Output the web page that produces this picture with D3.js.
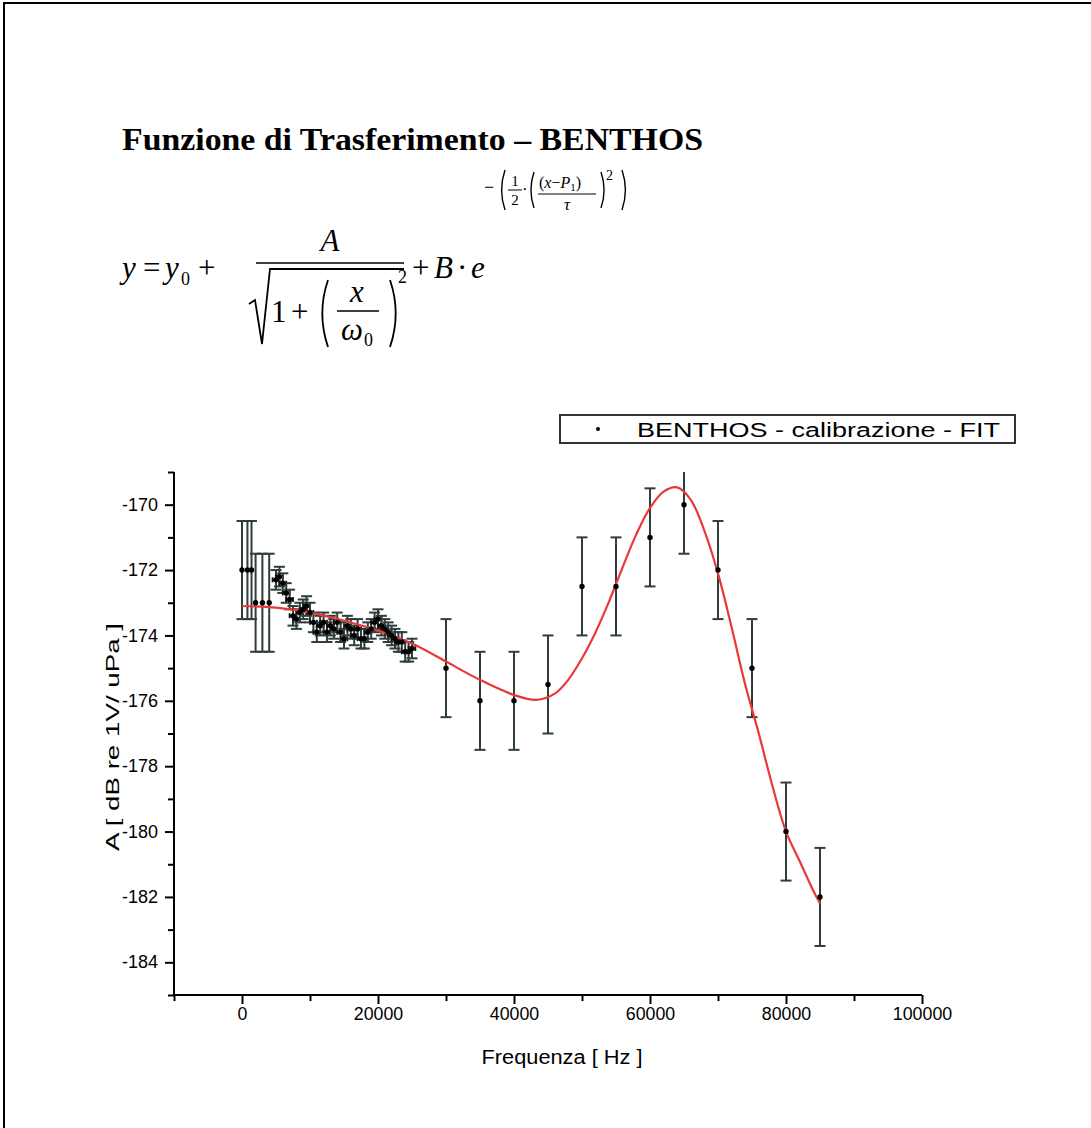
<!DOCTYPE html>
<html>
<head>
<meta charset="utf-8">
<script src="https://cdn.jsdelivr.net/npm/d3@7"></script>
<style>
  body { margin: 0; background: #fff; }
  svg text { fill: #000; }
</style>
</head>
<body>
<div id="chart"></div>
<script>
// dati
const freq = [0, 800, 1400, 2000, 3000, 4000,
  5000, 5500, 6000, 6500, 7000, 7500, 8000, 8500, 9000, 9500, 10000, 10500, 11000, 11500,
  12000, 12500, 13000, 13500, 14000, 14500, 15000, 15500, 16000, 16500, 17000, 17500,
  18000, 18500, 19000, 19500, 20000, 20500, 21000, 21500, 22000, 22500, 23000, 23500,
  24000, 24500, 25000,
  30000, 35000, 40000, 45000, 50000, 55000, 60000, 65000, 70000, 75000, 80000, 85000];
const ampl = [-172, -172, -172, -173, -173, -173,
  -172.3, -172.2, -172.4, -172.7, -172.9, -173.4, -173.5, -173.3, -173.2, -173.1, -173.3, -173.6, -173.9, -173.7,
  -173.6, -173.9, -173.7, -173.8, -173.6, -173.9, -174.1, -173.7, -173.8, -174.0, -173.8, -174.1,
  -174.1, -173.9, -173.8, -173.6, -173.5, -173.7, -173.8, -173.9, -174.0, -174.1, -174.2, -174.2,
  -174.5, -174.5, -174.4,
  -175, -176, -176, -175.5, -172.5, -172.5, -171, -170, -172, -175, -180, -182];
const errY = [1.5, 1.5, 1.5, 1.5, 1.5, 1.5,
  0.3, 0.3, 0.3, 0.3, 0.3, 0.3, 0.3, 0.3, 0.3, 0.3, 0.3, 0.3, 0.3, 0.3,
  0.3, 0.3, 0.3, 0.3, 0.3, 0.3, 0.3, 0.3, 0.3, 0.3, 0.3, 0.3,
  0.3, 0.3, 0.3, 0.3, 0.3, 0.3, 0.3, 0.3, 0.3, 0.3, 0.3, 0.3,
  0.3, 0.3, 0.3,
  1.5, 1.5, 1.5, 1.5, 1.5, 1.5, 1.5, 1.5, 1.5, 1.5, 1.5, 1.5];
const errX = [0, 0, 0, 0, 0, 0,
  500, 500, 500, 500, 500, 500, 500, 500, 500, 500, 500, 500, 500, 500,
  500, 500, 500, 500, 500, 500, 500, 500, 500, 500, 500, 500,
  500, 500, 500, 500, 500, 500, 500, 500, 500, 500, 500, 500,
  500, 500, 500,
  0, 0, 0, 0, 0, 0, 0, 0, 0, 0, 0, 0];

// curva del fit
const fitFreq = [0, 5000, 10000, 15000, 20000, 25000, 30000, 35000, 40000, 43300, 46000, 48000,
  50000, 52000, 54000, 56000, 58000, 60000, 62000, 64000, 66000, 68000, 70000, 72000,
  74000, 76000, 78000, 80000, 82000, 84000, 85000];
const fitAmpl = [-173.1, -173.15, -173.3, -173.55, -173.85, -174.25, -174.8, -175.36, -175.82, -175.97, -175.78, -175.35,
  -174.7, -173.9, -172.95, -171.9, -170.9, -170.1, -169.6, -169.47, -169.85, -170.8, -172.1, -173.75,
  -175.5, -177.0, -178.6, -180.0, -180.9, -181.8, -182.2];

const xTicks = [0, 20000, 40000, 60000, 80000, 100000];
const yTicks = [-170, -172, -174, -176, -178, -180, -182, -184];

const W = 1091, H = 1128;
const svg = d3.select("#chart").append("svg")
    .attr("width", W)
    .attr("height", H);

// cornice della pagina
svg.append("rect")
    .attr("x", 4).attr("y", 3)
    .attr("width", 1200).attr("height", 1200)
    .attr("fill", "none")
    .attr("stroke", "#000")
    .attr("stroke-width", 2);

// titolo
svg.append("text")
    .attr("x", 122).attr("y", 150)
    .attr("font-family", "Liberation Serif")
    .attr("font-weight", "bold")
    .attr("font-size", 31)
    .attr("textLength", 581)
    .attr("lengthAdjust", "spacingAndGlyphs")
    .text("Funzione di Trasferimento – BENTHOS");

// formula
const F = svg.append("g")
    .attr("font-family", "Liberation Serif")
    .attr("fill", "#000");
function t(x, y, s, size, italic, anchor) {
    return F.append("text")
        .attr("x", x).attr("y", y)
        .attr("font-size", size)
        .attr("font-style", italic ? "italic" : "normal")
        .attr("text-anchor", anchor || "start")
        .text(s);
}
function bar(x1, x2, y, w) {
    F.append("line")
        .attr("x1", x1).attr("x2", x2).attr("y1", y).attr("y2", y)
        .attr("stroke", "#000").attr("stroke-width", w || 1.5);
}
function paren(x, y1, y2, dir, w) {
    const bulge = dir * (y2 - y1) * 0.17;
    F.append("path")
        .attr("d", `M${x},${y1} Q${x - bulge},${(y1 + y2) / 2} ${x},${y2}`)
        .attr("fill", "none").attr("stroke", "#000").attr("stroke-width", w || 1.5);
}
const yb = 278;
t(122, yb, "y", 31, true);
t(143, yb, "=", 31, false);
t(165, yb, "y", 31, true);
t(181, yb + 7, "0", 18, false);
t(198, yb, "+", 31, false);
bar(256, 404, 263);
t(330, 251, "A", 31, true, "middle");
F.append("path")
    .attr("d", "M249,304 L255,300 L262,344 L270,269 L404,269")
    .attr("fill", "none").attr("stroke", "#000").attr("stroke-width", 1.8);
t(271, 322, "1", 31, false);
t(291, 322, "+", 31, false);
paren(328, 280, 347, 1, 1.8);
paren(390, 280, 347, -1, 1.8);
t(357, 302, "x", 31, true, "middle");
bar(337, 379, 311);
t(352, 340, "ω", 31, true, "middle");
t(364, 346, "0", 18, false);
t(398, 283, "2", 18, false);
t(412, yb, "+", 31, false);
t(434, yb, "B", 31, true);
t(457, yb, "·", 31, false);
t(471, yb, "e", 31, true);
t(484, 193, "−", 18, false);
paren(505, 170, 210, 1, 1.4);
t(515, 186, "1", 15, false, "middle");
bar(508, 522, 190, 1);
t(515, 205, "2", 15, false, "middle");
t(522, 195, "·", 17, false);
paren(534, 172, 208, 1, 1.4);
F.append("text").attr("x", 539).attr("y", 188).attr("font-size", 16)
    .html('(<tspan font-style="italic">x</tspan>−<tspan font-style="italic">P</tspan><tspan font-size="11" dy="3">1</tspan><tspan dy="-3">)</tspan>');
bar(538, 596, 194, 1);
t(567, 210, "τ", 17, true, "middle");
paren(601, 172, 208, -1, 1.4);
t(606, 180, "2", 14, false);
paren(622, 170, 210, -1, 1.4);

// area del grafico
const x = d3.scaleLinear().domain([-10000, 100000]).range([174, 922]);
const y = d3.scaleLinear().domain([-185, -169]).range([995, 472]);

svg.append("clipPath").attr("id", "clip")
    .append("rect")
    .attr("x", 174).attr("y", 472)
    .attr("width", 922 - 174).attr("height", 995 - 472);

const data = freq.map((f, i) => ({ f: f, a: ampl[i], ey: errY[i], ex: errX[i] }));

const plot = svg.append("g").attr("clip-path", "url(#clip)");
const errCol = "#2f3d3b";

// barre d'errore verticali
const eb = plot.selectAll(".eb").data(data).enter().append("g").attr("class", "eb");
eb.append("line")
    .attr("x1", d => x(d.f)).attr("x2", d => x(d.f))
    .attr("y1", d => y(d.a + d.ey)).attr("y2", d => y(d.a - d.ey))
    .attr("stroke", errCol).attr("stroke-width", 2);
eb.filter(d => y(d.a + d.ey) > 472).append("line")
    .attr("x1", d => x(d.f) - 5.5).attr("x2", d => x(d.f) + 5.5)
    .attr("y1", d => y(d.a + d.ey)).attr("y2", d => y(d.a + d.ey))
    .attr("stroke", errCol).attr("stroke-width", 2);
eb.append("line")
    .attr("x1", d => x(d.f) - 5.5).attr("x2", d => x(d.f) + 5.5)
    .attr("y1", d => y(d.a - d.ey)).attr("y2", d => y(d.a - d.ey))
    .attr("stroke", errCol).attr("stroke-width", 2);
// barre d'errore orizzontali
eb.filter(d => d.ex > 0).append("path")
    .attr("d", d => {
        const x1 = x(d.f - d.ex), x2 = x(d.f + d.ex), yy = y(d.a);
        return `M${x1},${yy}H${x2}M${x1},${yy - 2.5}V${yy + 2.5}M${x2},${yy - 2.5}V${yy + 2.5}`;
    })
    .attr("fill", "none").attr("stroke", "#111").attr("stroke-width", 1.8);

// curva del fit
const line = d3.line()
    .x((d, i) => x(fitFreq[i]))
    .y(d => y(d))
    .curve(d3.curveCatmullRom.alpha(0.5));
plot.append("path")
    .attr("d", line(fitAmpl))
    .attr("fill", "none")
    .attr("stroke", "#e8383a")
    .attr("stroke-width", 2.2);

// punti
plot.selectAll(".pt").data(data).enter().append("circle")
    .attr("class", "pt")
    .attr("cx", d => x(d.f)).attr("cy", d => y(d.a))
    .attr("r", 2.7)
    .attr("fill", "#000");

// assi
const xAxis = d3.axisBottom(x)
    .tickValues(xTicks)
    .tickFormat(d => String(d))
    .tickSize(9);
const xMinor = d3.axisBottom(x)
    .tickValues(d3.range(-10000, 100001, 20000))
    .tickFormat("")
    .tickSize(6);
const yAxis = d3.axisLeft(y)
    .tickValues(yTicks)
    .tickFormat(d => String(d))
    .tickSize(9);
const yMinor = d3.axisLeft(y)
    .tickValues(d3.range(-185, -168, 2))
    .tickFormat("")
    .tickSize(6);

function styleAxis(g) {
    g.select(".domain").attr("stroke", "#000").attr("stroke-width", 2);
    g.selectAll(".tick line").attr("stroke", "#000").attr("stroke-width", 2);
    g.selectAll("text")
        .attr("font-family", "Liberation Sans")
        .attr("font-size", 17.5)
        .attr("fill", "#000");
}
svg.append("g").attr("transform", "translate(0,995)").call(xMinor).call(styleAxis)
    .select(".domain").remove();
svg.append("g").attr("transform", "translate(174,0)").call(yMinor).call(styleAxis)
    .select(".domain").remove();
svg.append("g").attr("transform", "translate(0,995)").call(xAxis).call(styleAxis)
    .call(g => g.select(".domain").attr("d", "M174,0H922"))
    .selectAll("text").attr("y", 13).attr("dy", "0.71em")
    .attr("textLength", d => String(d).length * 9.9)
    .attr("lengthAdjust", "spacingAndGlyphs");
svg.append("g").attr("transform", "translate(174,0)").call(yAxis).call(styleAxis)
    .call(g => g.select(".domain").attr("d", "M0,472V995"))
    .selectAll("text").attr("x", -16)
    .attr("textLength", 36)
    .attr("lengthAdjust", "spacingAndGlyphs");

// titoli assi
svg.append("text")
    .attr("x", 562).attr("y", 1064)
    .attr("text-anchor", "middle")
    .attr("font-family", "Liberation Sans")
    .attr("font-size", 20)
    .attr("textLength", 161)
    .attr("lengthAdjust", "spacingAndGlyphs")
    .text("Frequenza [ Hz ]");
svg.append("text")
    .attr("transform", "translate(119,737) rotate(-90)")
    .attr("text-anchor", "middle")
    .attr("font-family", "Liberation Sans")
    .attr("font-size", 19)
    .attr("textLength", 228)
    .attr("lengthAdjust", "spacingAndGlyphs")
    .text("A [ dB re 1V/ uPa ]");

// legenda
const leg = svg.append("g");
leg.append("rect")
    .attr("x", 560).attr("y", 415)
    .attr("width", 455).attr("height", 28)
    .attr("fill", "#fff")
    .attr("stroke", "#333")
    .attr("stroke-width", 2);
leg.append("circle")
    .attr("cx", 598).attr("cy", 429).attr("r", 2)
    .attr("fill", "#000");
leg.append("text")
    .attr("x", 637).attr("y", 437)
    .attr("font-family", "Liberation Sans")
    .attr("font-size", 20)
    .attr("textLength", 363)
    .attr("lengthAdjust", "spacingAndGlyphs")
    .text("BENTHOS - calibrazione - FIT");
</script>
</body>
</html>
